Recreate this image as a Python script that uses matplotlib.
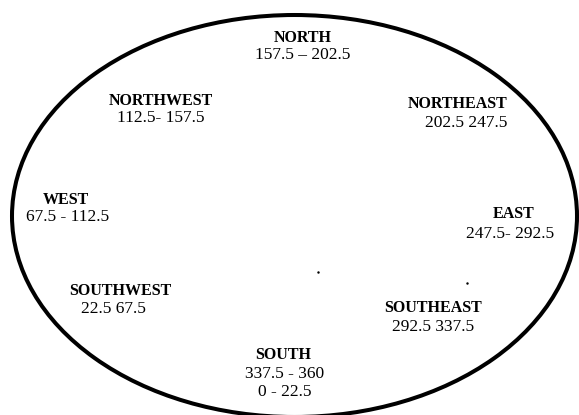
import matplotlib.pyplot as plt
from matplotlib.patches import Ellipse

# Direction sectors (degrees)
directions = ["NORTH", "NORTHWEST", "NORTHEAST", "WEST", "EAST",
              "SOUTHWEST", "SOUTHEAST", "SOUTH"]
ranges = ["157.5 \u2013 202.5", "112.5- 157.5", "202.5 247.5", "67.5 - 112.5",
          "247.5- 292.5", "22.5 67.5", "292.5 337.5", "337.5 - 360\n0 - 22.5"]

# label layout in pixel coords: (name x, name y, range x, range y)
layout = [
    (303, 38, 303, 55),
    (161, 101, 161, 118),
    (458, 104, 466, 123),
    (66, 200, 68, 217),
    (514, 214, 510, 234),
    (120, 291, 113, 309),
    (433, 308, 433, 327),
    (283, 355, 285, 383),
]

plt.rcParams['font.family'] = ['Liberation Serif', 'DejaVu Serif']

fig = plt.figure(figsize=(5.79, 4.15), dpi=100)
ax = fig.add_axes([0, 0, 1, 1])
ax.set_xlim(0, 579)
ax.set_ylim(415, 0)
ax.axis('off')

ax.add_patch(Ellipse((294.5, 216), 565, 402, fill=False, edgecolor='black',
                     linewidth=2.9, clip_on=True))

for name, rng, (nx, ny, rx, ry) in zip(directions, ranges, layout):
    ax.text(nx, ny, name, ha='center', va='center', fontsize=11.5, fontweight='bold')
    ax.text(rx, ry, rng, ha='center', va='center', fontsize=12.5, linespacing=1.15)

# stray dots in the original
ax.plot([318, 467], [272, 283], 'k.', markersize=1.5)

fig.savefig('out.png', dpi=100)
